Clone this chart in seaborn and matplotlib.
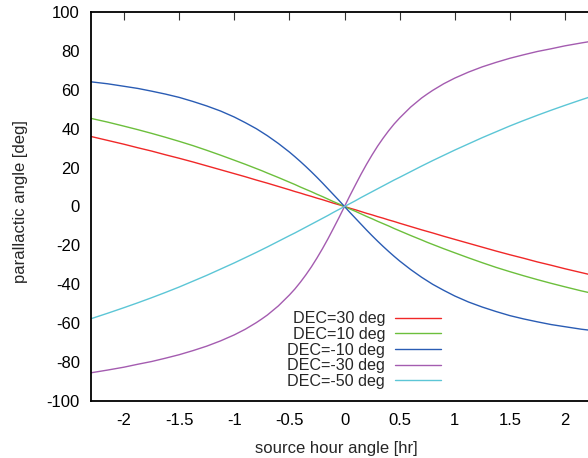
import pandas as pd
import matplotlib
matplotlib.use('Agg')
import matplotlib.pyplot as plt
import seaborn as sns

# hour angle grid [hr]
hours = [-2.3, -2.15, -2.0, -1.875, -1.75, -1.625, -1.5, -1.375, -1.25, -1.125, -1.0, -0.9, -0.8, -0.75,
         -0.7, -0.6, -0.5, -0.45, -0.4, -0.35, -0.3, -0.25, -0.2, -0.15, -0.1, -0.05,
         0.0,
         0.05, 0.1, 0.15, 0.2, 0.25, 0.3, 0.35, 0.4, 0.45, 0.5, 0.6, 0.7,
         0.75, 0.8, 0.9, 1.0, 1.125, 1.25, 1.375, 1.5, 1.625, 1.75, 1.875, 2.0, 2.15, 2.3]

# parallactic angle [deg]
dec_p30 = [36.0, 34.0, 32.0, 30.2, 28.5, 26.6, 24.8, 22.9, 20.9, 18.9, 16.9, 15.3, 13.6, 12.8,
           12.0, 10.3, 8.6, 7.7, 6.9, 6.0, 5.2, 4.3, 3.5, 2.6, 1.7, 0.9,
           0.0,
           -0.9, -1.7, -2.6, -3.5, -4.3, -5.2, -6.0, -6.9, -7.7, -8.6, -10.3, -12.0,
           -12.8, -13.6, -15.3, -16.9, -18.9, -20.9, -22.9, -24.8, -26.6, -28.5, -30.2, -32.0, -34.0, -36.0]
dec_p10 = [45.3, 43.4, 41.3, 39.5, 37.6, 35.6, 33.5, 31.3, 28.9, 26.4, 23.8, 21.7, 19.5, 18.4,
           17.2, 14.9, 12.5, 11.3, 10.0, 8.8, 7.6, 6.3, 5.1, 3.8, 2.5, 1.3,
           0.0,
           -1.3, -2.5, -3.8, -5.1, -6.3, -7.6, -8.8, -10.0, -11.3, -12.5, -14.9, -17.2,
           -18.4, -19.5, -21.7, -23.8, -26.4, -28.9, -31.3, -33.5, -35.6, -37.6, -39.5, -41.3, -43.4, -45.3]
dec_m10 = [64.1, 63.1, 61.8, 60.7, 59.3, 57.8, 56.1, 54.0, 51.7, 49.1, 46.0, 43.1, 40.0, 38.2,
           36.4, 32.4, 28.0, 25.6, 23.1, 20.5, 17.8, 15.0, 12.1, 9.1, 6.1, 3.1,
           0.0,
           -3.1, -6.1, -9.1, -12.1, -15.0, -17.8, -20.5, -23.1, -25.6, -28.0, -32.4, -36.4,
           -38.2, -40.0, -43.1, -46.0, -49.1, -51.7, -54.0, -56.1, -57.8, -59.3, -60.7, -61.8, -63.1, -64.1]
dec_m30 = [-85.5, -84.1, -82.6, -81.1, -79.7, -78.0, -76.2, -74.1, -71.8, -69.1, -66.0, -63.1, -59.7, -57.8,
           -55.8, -51.1, -45.5, -42.4, -38.9, -35.1, -31.0, -26.5, -21.7, -16.6, -11.2, -5.7,
           0.0,
           5.7, 11.2, 16.6, 21.7, 26.5, 31.0, 35.1, 38.9, 42.4, 45.5, 51.1, 55.8,
           57.8, 59.7, 63.1, 66.0, 69.1, 71.8, 74.1, 76.2, 78.0, 79.7, 81.1, 82.6, 84.1, 85.5]
dec_m50 = [-57.7, -54.9, -52.0, -49.5, -46.9, -44.2, -41.4, -38.4, -35.4, -32.2, -29.0, -26.3, -23.6, -22.2,
           -20.8, -17.9, -15.0, -13.6, -12.1, -10.6, -9.1, -7.6, -6.1, -4.6, -3.0, -1.5,
           0.0,
           1.5, 3.0, 4.6, 6.1, 7.6, 9.1, 10.6, 12.1, 13.6, 15.0, 17.9, 20.8,
           22.2, 23.6, 26.3, 29.0, 32.2, 35.4, 38.4, 41.4, 44.2, 46.9, 49.5, 52.0, 54.9, 57.7]

labels = ['DEC=30 deg', 'DEC=10 deg', 'DEC=-10 deg', 'DEC=-30 deg', 'DEC=-50 deg']
colors = ['#f02828', '#6cbf3c', '#2a5cb4', '#a45cb0', '#5cc6d6']

x_ticks = [-2, -1.5, -1, -0.5, 0, 0.5, 1, 1.5, 2]
y_ticks = list(range(-100, 101, 20))

# long-form table for seaborn
series = [dec_p30, dec_p10, dec_m10, dec_m30, dec_m50]
df = pd.concat([pd.DataFrame({'hour': hours, 'angle': s, 'label': lab})
                for s, lab in zip(series, labels)], ignore_index=True)

sns.set_style('white')
plt.rcParams['font.family'] = ['Liberation Sans', 'DejaVu Sans']
plt.rcParams['font.size'] = 12
plt.rcParams['axes.unicode_minus'] = False

fig = plt.figure(figsize=(5.88, 4.58), dpi=100)
W, H = 588, 458
ax = fig.add_axes([91 / W, 1 - 401 / H, (598 - 91) / W, (401 - 12) / H])

sns.lineplot(data=df, x='hour', y='angle', hue='label', hue_order=labels,
             palette=colors, linewidth=1.0, sort=False, estimator=None, ax=ax)

ax.set_xlim(-2.3, 2.3)
ax.set_ylim(-100, 100)
ax.set_xticks(x_ticks)
ax.set_xticklabels(['%g' % t for t in x_ticks])
ax.set_yticks(y_ticks)
ax.set_yticklabels(['%d' % t for t in y_ticks])
ax.set_xlabel('')
ax.set_ylabel('')

for sp in ax.spines.values():
    sp.set_visible(True)
    sp.set_color('black')
    sp.set_linewidth(1.3)
ax.tick_params(direction='in', length=6, width=0.8, color='#333333',
               top=True, right=True, labelsize=12, labelcolor='black')
ax.tick_params(axis='y', pad=8)
ax.tick_params(axis='x', pad=8.5)

fig.text(21 / W, 1 - 202 / H, 'parallactic angle [deg]', rotation=90,
         ha='center', va='center', fontsize=12)
fig.text(336 / W, 1 - 448 / H, 'source hour angle [hr]',
         ha='center', va='center', fontsize=12)

old = ax.get_legend()
handles = old.legend_handles
old.remove()
leg = ax.legend(handles, labels, loc='lower right', markerfirst=False, frameon=False,
                bbox_to_anchor=(441 / W, 1 - 389 / H), bbox_transform=fig.transFigure,
                borderpad=0, borderaxespad=0, handlelength=2.85, handletextpad=0.62,
                labelspacing=0.04, fontsize=11.6)
for h in leg.legend_handles:
    h.set_linewidth(1.0)

fig.savefig('out.png', dpi=100)
